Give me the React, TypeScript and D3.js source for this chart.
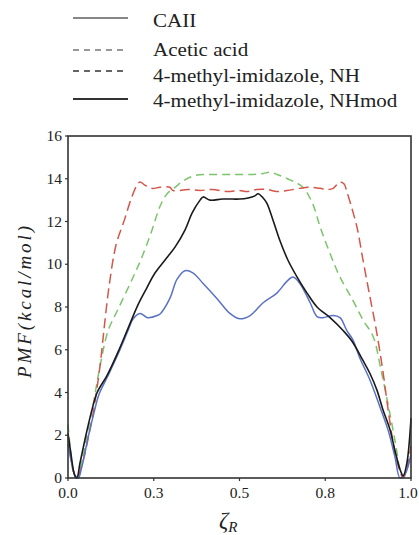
import React from "react";
import * as d3 from "d3";

const seriesNames = ["CAII", "Acetic acid", "4-methyl-imidazole, NH", "4-methyl-imidazole, NHmod"];

const caiiX = [0, 0.008, 0.02, 0.026, 0.035, 0.055, 0.07, 0.085, 0.114, 0.146, 0.175, 0.204, 0.23, 0.254, 0.283, 0.312, 0.341, 0.362, 0.385, 0.394, 0.414, 0.45, 0.48, 0.5, 0.525, 0.545, 0.554, 0.569, 0.58, 0.598, 0.618, 0.641, 0.668, 0.697, 0.726, 0.764, 0.802, 0.828, 0.86, 0.88, 0.901, 0.918, 0.939, 0.953, 0.968, 0.977, 0.988, 1.0];
const caiiY = [2.1, 1.2, 0.1, 0.0, 0.7, 2.2, 3.2, 4.0, 4.8, 5.9, 7.0, 8.1, 8.9, 9.6, 10.2, 10.8, 11.6, 12.4, 13.0, 13.15, 13.0, 13.05, 13.05, 13.05, 13.1, 13.2, 13.3, 13.1, 12.85, 12.05, 11.1, 10.2, 9.4, 8.65, 8.0, 7.5, 6.9, 6.4, 5.5, 4.9, 4.1, 3.2, 2.25, 1.3, 0.4, 0.1, 0.7, 2.8];

const aceticX = [0, 0.008, 0.016, 0.026, 0.035, 0.05, 0.058, 0.073, 0.093, 0.102, 0.108, 0.12, 0.14, 0.165, 0.185, 0.201, 0.21, 0.224, 0.245, 0.268, 0.297, 0.306, 0.35, 0.385, 0.42, 0.464, 0.5, 0.522, 0.55, 0.58, 0.609, 0.638, 0.676, 0.7, 0.735, 0.755, 0.773, 0.793, 0.805, 0.813, 0.828, 0.843, 0.86, 0.88, 0.898, 0.918, 0.935, 0.953, 0.97, 0.977, 0.988, 1.0];
const aceticY = [1.9, 1.0, 0.3, 0.0, 0.3, 1.2, 1.8, 3.0, 5.2, 6.5, 7.4, 9.0, 10.9, 12.1, 13.1, 13.7, 13.85, 13.7, 13.55, 13.6, 13.6, 13.45, 13.5, 13.45, 13.5, 13.4, 13.45, 13.4, 13.5, 13.5, 13.4, 13.45, 13.55, 13.6, 13.55, 13.5, 13.55, 13.85, 13.75, 13.4, 12.6, 11.7, 10.2, 8.5, 7.0, 5.0, 3.0, 1.2, 0.2, 0.0, 0.4, 1.5];

const nhX = [0, 0.006, 0.017, 0.026, 0.041, 0.058, 0.073, 0.085, 0.093, 0.117, 0.146, 0.187, 0.216, 0.245, 0.268, 0.289, 0.312, 0.341, 0.37, 0.414, 0.46, 0.5, 0.54, 0.57, 0.589, 0.61, 0.647, 0.685, 0.714, 0.735, 0.764, 0.793, 0.831, 0.86, 0.89, 0.912, 0.935, 0.955, 0.968, 0.978, 0.988, 1.0];
const nhY = [2.5, 1.5, 0.2, 0.0, 0.8, 2.2, 3.4, 4.5, 5.2, 6.9, 7.9, 9.3, 10.35, 11.6, 12.7, 13.3, 13.6, 13.95, 14.15, 14.2, 14.2, 14.2, 14.2, 14.25, 14.3, 14.2, 13.95, 13.6, 12.8, 11.75, 10.5, 9.4, 8.3, 7.4, 6.6, 5.1, 3.3, 1.6, 0.4, 0.1, 0.5, 1.3];

const nhmodX = [0, 0.008, 0.02, 0.03, 0.04, 0.06, 0.075, 0.09, 0.114, 0.146, 0.175, 0.19, 0.21, 0.232, 0.26, 0.27, 0.297, 0.318, 0.341, 0.364, 0.394, 0.434, 0.472, 0.5, 0.531, 0.569, 0.609, 0.638, 0.656, 0.676, 0.706, 0.726, 0.743, 0.773, 0.793, 0.813, 0.831, 0.851, 0.88, 0.91, 0.933, 0.953, 0.968, 0.983, 1.0];
const nhmodY = [1.6, 0.9, 0.15, 0.0, 0.5, 2.0, 3.0, 3.9, 4.7, 5.8, 6.9, 7.45, 7.7, 7.5, 7.6, 7.7, 8.4, 9.3, 9.7, 9.6, 9.1, 8.4, 7.7, 7.45, 7.6, 8.2, 8.65, 9.2, 9.4, 9.1, 8.2, 7.55, 7.5, 7.6, 7.5, 6.9, 6.45, 5.6, 4.6, 3.3, 2.25, 1.0, 0.0, 0.2, 1.1];

const xTicks = [0, 0.25, 0.5, 0.75, 1.0];
const yTicks = [0, 2, 4, 6, 8, 10, 12, 14, 16];

const W = 419, H = 535;
const M = { left: 68, right: 411, top: 136, bottom: 478 };
const SERIF = "Liberation Serif, DejaVu Serif, serif";

function ST({ x, y, sx = 1, size, anchor = "start", children, italic = false }: any) {
  return (
    <text transform={`translate(${x},${y}) scale(${sx},1)`} fontFamily={SERIF} fontSize={size}
      textAnchor={anchor} fontStyle={italic ? "italic" : "normal"} fill="#222">{children}</text>
  );
}

export default function App() {
  const x = d3.scaleLinear().domain([0, 1]).range([M.left, M.right]);
  const y = d3.scaleLinear().domain([0, 16]).range([M.bottom, M.top]);
  const line = d3.line<[number, number]>().x(d => x(d[0])).y(d => y(d[1])).curve(d3.curveCatmullRom.alpha(0.5));
  const zip = (a: number[], b: number[]) => a.map((v, i) => [v, b[i]] as [number, number]);
  const fmt = d3.format(".1f");

  const series = [
    { pts: zip(nhX, nhY), color: "#7cc46c", dash: "8,5", w: 1.5 },
    { pts: zip(aceticX, aceticY), color: "#d4564a", dash: "10,5", w: 1.5 },
    { pts: zip(nhmodX, nhmodY), color: "#5a72c4", dash: null, w: 1.5 },
    { pts: zip(caiiX, caiiY), color: "#1a1a1a", dash: null, w: 1.6 },
  ];

  const legendY = [18, 50, 71, 99];
  const legendTextY = [27, 56, 82, 107];
  const legendStyle = [
    { dash: null, color: "#111", w: 1.2 },
    { dash: "6,5", color: "#333", w: 1.2 },
    { dash: "6,5", color: "#333", w: 1.3 },
    { dash: null, color: "#333", w: 2 },
  ];

  return (
    <svg width={W} height={H} style={{ position: "absolute", left: 0, top: 0, background: "#fff" }}>
      {seriesNames.map((n, i) => (
        <g key={n}>
          <line x1={73} x2={128} y1={legendY[i]} y2={legendY[i]} stroke={legendStyle[i].color}
            strokeWidth={legendStyle[i].w} strokeDasharray={legendStyle[i].dash || undefined} />
          <ST x={153} y={legendTextY[i]} size={19.5} sx={1.08}>{n}</ST>
        </g>
      ))}
      <g>
        {series.map((s, i) => (
          <path key={i} d={line(s.pts) || ""} fill="none" stroke={s.color} strokeWidth={s.w}
            strokeDasharray={s.dash || undefined} />
        ))}
      </g>
      <rect x={M.left} y={M.top} width={M.right - M.left} height={M.bottom - M.top} fill="none" stroke="#333" strokeWidth={1.6} />
      {yTicks.map(t => (
        <g key={t}>
          <line x1={M.left - 3} x2={M.left} y1={y(t)} y2={y(t)} stroke="#333" strokeWidth={1.2} />
          <ST x={62} y={y(t) + 5} size={15.5} anchor="end">{t}</ST>
        </g>
      ))}
      {xTicks.map(t => (
        <g key={t}>
          <line x1={x(t)} x2={x(t)} y1={M.bottom} y2={M.bottom + 3} stroke="#333" strokeWidth={1.2} />
          <ST x={Math.min(x(t), W - 11)} y={498} size={15.5} anchor="middle">{fmt(t)}</ST>
        </g>
      ))}
      <text transform="translate(31,302) rotate(-90)" fontFamily={SERIF} fontSize={19} fontStyle="italic"
        textAnchor="middle" fill="#222" textLength={152} lengthAdjust="spacing">PMF(kcal/mol)</text>
      <text x={219} y={528} fontFamily={SERIF} fontSize={23} fontStyle="italic" fill="#222">ζ
        <tspan fontSize={15} dy={4}>R</tspan>
      </text>
    </svg>
  );
}
